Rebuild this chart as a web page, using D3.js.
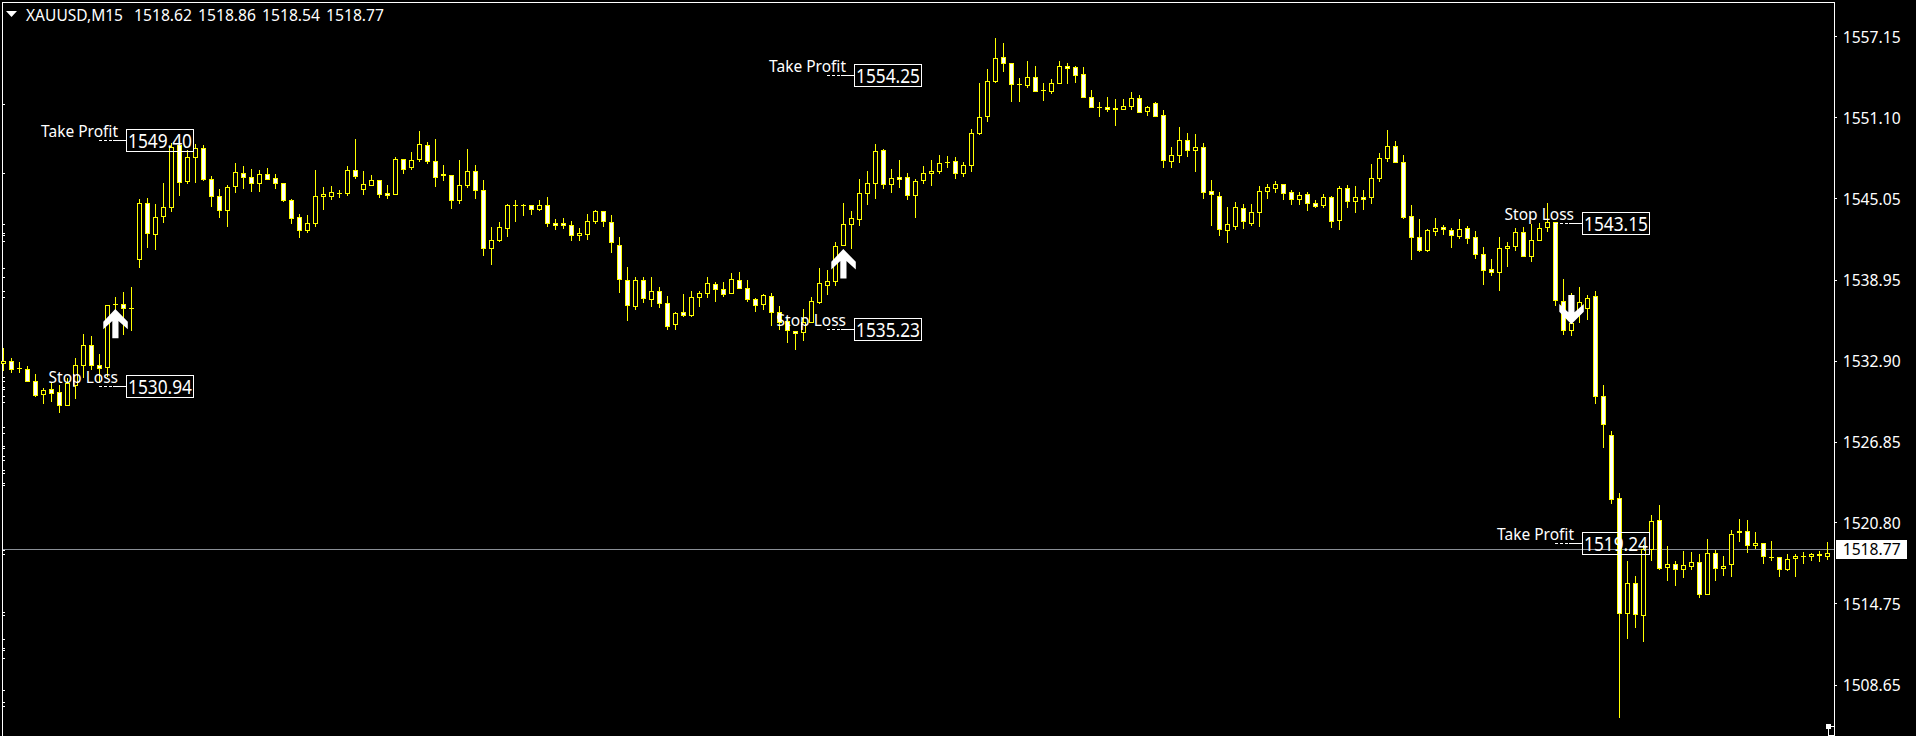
<!DOCTYPE html>
<html>
<head>
<meta charset="utf-8">
<style>
html,body{margin:0;padding:0;background:#000;overflow:hidden}
svg{display:block}
text{font-family:"Noto Sans",sans-serif;fill:#fff}
</style>
<script src="https://cdn.jsdelivr.net/npm/d3@7/dist/d3.min.js"></script>
</head>
<body>
<svg id="c" width="1916" height="736"></svg>
<script>
const symbolTitle = "XAUUSD,M15";
const headerValues = [1518.62, 1518.86, 1518.54, 1518.77];
const axisTicks = [1557.15, 1551.10, 1545.05, 1538.95, 1532.90, 1526.85, 1520.80, 1514.75, 1508.65];
const bidPrice = 1518.77;

const opens = [
1532.69,1532.85,1532.33,1532.26,1531.33,1530.39,1530.73,1530.54,1529.53,1531.08,
1532.56,1534.05,1532.56,1532.38,1537.14,1537.12,1536.79,1540.48,1544.67,1542.32,
1543.67,1544.37,1548.96,1546.29,1548.08,1548.79,1546.47,1545.20,1544.12,1545.91,
1546.92,1546.62,1546.14,1546.84,1546.54,1546.17,1544.90,1543.63,1542.62,1543.18,
1545.17,1545.17,1545.42,1545.39,1547.14,1545.69,1546.02,1546.39,1545.37,1545.32,
1547.96,1547.34,1547.93,1549.01,1547.81,1546.86,1546.77,1544.87,1545.97,1547.07,
1545.65,1541.28,1541.88,1542.77,1544.52,1544.52,1544.52,1544.19,1544.52,1543.20,
1543.20,1543.03,1542.28,1542.32,1543.35,1544.07,1543.25,1541.53,1538.91,1536.94,
1538.91,1537.46,1538.09,1537.19,1535.59,1536.52,1536.27,1537.64,1537.91,1538.61,
1538.24,1537.91,1538.91,1538.32,1537.49,1537.09,1537.72,1536.52,1535.82,1535.12,
1534.99,1535.79,1537.29,1538.51,1538.81,1541.55,1543.07,1543.48,1545.42,1546.17,
1548.64,1546.09,1546.64,1546.62,1545.27,1546.39,1546.92,1547.07,1547.71,1547.81,
1546.89,1547.49,1549.86,1551.13,1553.75,1555.59,1555.15,1553.57,1553.47,1554.10,
1553.13,1553.02,1553.67,1554.91,1554.85,1554.32,1552.60,1551.85,1551.82,1551.80,
1551.67,1551.90,1552.53,1551.52,1552.15,1551.26,1547.78,1548.23,1549.39,1548.61,
1548.86,1545.52,1545.20,1542.62,1542.92,1544.30,1543.20,1543.97,1545.54,1545.77,
1546.09,1545.50,1544.94,1545.35,1544.67,1544.49,1545.12,1543.37,1545.80,1544.79,
1545.14,1545.09,1546.51,1548.01,1548.94,1547.74,1543.70,1542.13,1541.13,1542.58,
1542.86,1542.65,1542.17,1542.80,1542.13,1540.86,1539.74,1539.48,1541.31,1541.43,
1542.50,1540.73,1541.88,1542.88,1543.25,1537.34,1535.14,1536.54,1536.79,1537.72,
1530.24,1527.32,1522.61,1514.01,1516.25,1513.86,1518.79,1520.96,1517.45,1517.67,
1517.30,1517.54,1517.82,1515.40,1518.49,1517.37,1517.67,1520.16,1520.14,1519.06,
1519.24,1518.19,1518.19,1517.27,1518.09,1518.27,1518.24,1518.44,1518.22];

const highs = [
1533.85,1533.10,1532.80,1532.50,1531.88,1530.83,1531.21,1531.08,1531.61,1533.08,
1534.87,1534.72,1533.38,1537.04,1537.64,1538.02,1538.39,1544.99,1545.05,1544.62,
1546.19,1549.16,1549.28,1548.66,1549.11,1549.01,1546.69,1545.74,1546.02,1547.69,
1547.46,1547.24,1547.16,1547.31,1546.86,1546.19,1544.99,1543.87,1543.80,1547.16,
1545.89,1545.97,1545.67,1547.46,1549.48,1547.09,1546.79,1546.42,1546.04,1548.14,
1547.99,1548.51,1550.08,1549.24,1549.48,1547.54,1546.79,1547.91,1548.73,1547.54,
1546.42,1542.88,1543.25,1544.60,1544.92,1544.60,1544.57,1544.92,1545.12,1543.48,
1543.55,1543.33,1542.80,1543.87,1544.15,1544.10,1543.80,1542.13,1539.91,1539.16,
1539.16,1539.16,1538.39,1537.74,1536.54,1537.89,1538.11,1538.11,1539.16,1538.76,
1538.76,1539.46,1539.51,1538.94,1537.59,1537.89,1537.96,1536.99,1536.09,1535.12,
1536.77,1537.66,1539.81,1539.68,1541.76,1544.67,1544.07,1546.47,1547.07,1549.11,
1548.73,1547.22,1547.89,1546.92,1546.47,1547.44,1547.89,1548.29,1548.19,1548.14,
1547.76,1550.23,1553.65,1554.70,1557.04,1556.66,1555.17,1554.02,1555.29,1554.94,
1553.65,1553.95,1555.29,1555.15,1554.92,1554.87,1553.15,1552.23,1552.60,1552.45,
1552.45,1552.98,1552.75,1551.93,1552.23,1551.63,1548.88,1550.38,1549.93,1549.83,
1549.18,1546.42,1545.52,1544.40,1544.77,1544.62,1544.62,1545.97,1546.12,1546.34,
1546.12,1545.67,1545.52,1545.52,1544.92,1545.37,1545.22,1545.97,1546.04,1545.97,
1545.67,1547.61,1548.41,1550.13,1549.33,1548.29,1544.57,1543.50,1542.73,1543.57,
1543.05,1542.83,1543.50,1542.95,1542.60,1541.40,1540.51,1542.15,1541.78,1542.83,
1542.90,1543.12,1543.20,1544.70,1543.30,1539.01,1537.94,1538.39,1537.81,1538.09,
1531.08,1527.64,1522.98,1517.92,1516.80,1519.11,1521.36,1522.11,1519.04,1517.92,
1518.67,1518.59,1518.44,1519.56,1518.74,1518.29,1520.24,1521.06,1520.98,1520.09,
1519.29,1519.41,1518.24,1518.44,1518.42,1518.59,1518.49,1518.67,1519.34];

const lows = [
1532.13,1532.00,1532.00,1531.33,1530.21,1529.68,1529.83,1529.01,1529.53,1530.06,
1531.61,1532.20,1531.21,1531.70,1535.94,1534.82,1535.14,1539.86,1541.33,1541.20,
1543.22,1544.02,1545.22,1546.14,1546.19,1546.34,1544.40,1543.57,1542.90,1545.44,
1545.74,1545.52,1545.52,1546.42,1545.74,1544.77,1543.12,1542.08,1542.45,1542.90,
1544.17,1544.92,1545.07,1545.22,1546.49,1545.29,1546.02,1545.07,1544.99,1545.29,
1546.86,1547.16,1547.76,1547.64,1545.89,1546.34,1544.25,1544.62,1545.82,1544.99,
1540.73,1540.06,1541.78,1542.15,1543.27,1543.72,1543.80,1544.10,1542.90,1542.68,
1542.75,1541.85,1541.85,1541.93,1543.12,1542.90,1540.96,1537.96,1535.87,1536.69,
1537.24,1536.92,1536.84,1535.20,1535.20,1536.17,1536.19,1536.92,1537.59,1537.29,
1537.66,1537.91,1538.29,1537.29,1536.54,1536.69,1535.50,1535.20,1534.22,1533.70,
1534.37,1535.79,1537.14,1537.81,1538.49,1541.46,1541.25,1542.98,1544.57,1544.99,
1545.74,1545.44,1545.82,1544.92,1543.57,1546.12,1545.97,1546.86,1547.31,1546.49,
1546.64,1547.01,1549.78,1550.75,1553.67,1554.49,1552.25,1552.25,1553.30,1553.02,
1552.33,1552.85,1553.60,1553.60,1553.67,1552.57,1551.82,1551.13,1551.50,1550.46,
1551.67,1551.65,1551.45,1551.20,1551.15,1547.31,1547.31,1547.69,1548.14,1547.01,
1544.99,1542.98,1542.23,1541.70,1542.68,1542.75,1542.98,1542.90,1544.99,1545.44,
1544.92,1544.57,1544.57,1544.10,1544.32,1544.32,1542.83,1542.68,1544.32,1543.95,
1544.17,1544.62,1546.27,1547.76,1547.69,1543.50,1540.43,1541.05,1541.05,1542.23,
1542.30,1541.33,1542.00,1541.63,1540.51,1538.56,1539.24,1538.11,1539.91,1541.11,
1540.66,1540.28,1541.88,1542.53,1536.99,1534.82,1534.75,1535.74,1535.94,1529.68,
1526.39,1522.20,1506.20,1512.11,1512.93,1511.88,1517.92,1517.27,1516.44,1516.05,
1516.65,1517.24,1515.15,1515.40,1516.44,1516.80,1516.72,1519.34,1518.52,1518.79,
1517.69,1517.89,1516.72,1517.19,1516.72,1517.69,1517.92,1517.84,1517.99];

const closes = [
1532.84,1532.26,1532.33,1531.33,1530.28,1530.66,1530.46,1529.53,1531.23,1532.53,
1534.05,1532.56,1532.33,1537.04,1537.14,1536.82,1536.79,1544.67,1542.43,1543.63,
1544.37,1548.88,1546.21,1548.11,1548.79,1546.42,1545.17,1544.12,1545.87,1546.99,
1546.59,1546.14,1546.84,1546.49,1546.14,1544.85,1543.57,1542.62,1543.18,1545.20,
1545.35,1545.50,1545.42,1547.14,1546.66,1546.09,1546.39,1545.32,1545.29,1547.96,
1547.19,1547.89,1549.09,1547.78,1546.59,1546.75,1544.87,1546.02,1547.07,1545.65,
1541.28,1541.91,1542.88,1544.52,1544.52,1544.52,1544.19,1544.52,1543.15,1543.05,
1543.05,1542.25,1542.40,1543.33,1544.07,1543.30,1541.73,1538.96,1537.01,1538.91,
1537.54,1538.09,1537.16,1535.44,1536.44,1536.27,1537.64,1537.94,1538.69,1538.21,
1537.84,1538.99,1538.29,1537.46,1537.01,1537.79,1536.49,1535.74,1535.14,1534.92,
1535.74,1537.34,1538.69,1538.84,1541.46,1543.10,1543.55,1545.42,1546.17,1548.56,
1546.09,1546.54,1546.49,1545.27,1546.32,1546.92,1547.07,1547.67,1547.71,1546.89,
1547.52,1549.91,1551.11,1553.80,1555.52,1555.12,1553.54,1553.57,1554.10,1553.02,
1553.13,1553.65,1554.92,1554.79,1554.22,1552.57,1551.82,1551.85,1551.67,1551.69,
1551.90,1552.53,1551.45,1551.85,1551.15,1547.86,1548.26,1549.39,1548.61,1548.86,
1545.47,1545.33,1542.70,1543.10,1544.37,1543.30,1544.00,1545.57,1545.87,1546.09,
1545.39,1544.94,1545.27,1544.64,1544.42,1545.12,1543.30,1545.80,1544.79,1545.12,
1544.96,1546.54,1548.04,1548.94,1547.71,1543.60,1542.10,1541.18,1542.65,1542.80,
1542.75,1542.25,1542.73,1542.03,1540.83,1539.68,1539.48,1541.31,1541.46,1542.50,
1540.73,1541.91,1542.80,1543.25,1537.44,1535.14,1535.70,1537.22,1537.57,1530.24,
1528.11,1522.50,1514.01,1516.25,1513.90,1518.79,1520.89,1517.37,1517.67,1517.30,
1517.60,1517.82,1515.40,1518.49,1517.37,1517.52,1519.91,1520.03,1519.06,1519.24,
1518.24,1518.19,1517.27,1518.04,1518.27,1518.27,1518.42,1518.33,1518.49];

// trade arrows: bar, tip price, direction
const arrowBars = [14, 105, 196];
const arrowPrices = [1536.77, 1541.25, 1535.62];
const arrowDirs = ["up", "up", "down"];

// order levels
const levelBars = [14, 14, 105, 105, 196, 196];
const levelNames = ["Take Profit", "Stop Loss", "Take Profit", "Stop Loss", "Stop Loss", "Take Profit"];
const levelPrices = [1549.40, 1530.94, 1554.25, 1535.23, 1543.15, 1519.24];

// deal marks on the left edge
const edgeMarks = [1552.10,1546.94,1543.12,1542.45,1542.30,1541.85,1539.76,1539.09,1538.11,1537.66,
1531.61,1531.38,1530.93,1530.71,1530.26,1529.81,1527.87,1527.49,1526.52,1526.37,1525.70,1525.40,
1524.72,1524.50,1523.68,1523.53,1518.74,1518.44,1514.03,1513.88,1512.08,1511.41,1511.19,1510.66,
1508.27,1507.37,1507.07];

const W = 1916, H = 736;
const YELLOW = "#ffff00";
const svg = d3.select("#c").attr("viewBox", `0 0 ${W} ${H}`);
const y = d3.scaleLinear().domain([1559.88, 1504.83]).range([0, H]);
const x = d3.scaleLinear().domain([0, opens.length - 1]).range([3.5, 3.5 + 8 * (opens.length - 1)]);
const bars = d3.range(opens.length);
const crisp = g => g.attr("shape-rendering", "crispEdges");

// frame
const frame = svg.append("g").call(crisp);
frame.append("rect").attr("x", 2).attr("y", 2).attr("width", 1).attr("height", H - 2).attr("fill", "#fff");
frame.append("rect").attr("x", 2).attr("y", 2).attr("width", 1833).attr("height", 1).attr("fill", "#fff");
frame.selectAll("rect.m").data(edgeMarks).join("rect").attr("class", "m")
  .attr("x", 3).attr("width", 2).attr("height", 1).attr("y", d => Math.floor(y(d))).attr("fill", "#fff");

// bid line
svg.append("g").call(crisp).append("rect")
  .attr("x", 3).attr("width", 1831).attr("height", 1)
  .attr("y", Math.floor(y(bidPrice))).attr("fill", "#8a8f96");

// candles
const wickG = svg.append("g").call(crisp);
wickG.selectAll("rect").data(bars).join("rect")
  .attr("x", i => Math.floor(x(i))).attr("width", 1)
  .attr("y", i => Math.round(y(highs[i])))
  .attr("height", i => Math.max(1, Math.round(y(lows[i])) - Math.round(y(highs[i]))))
  .attr("fill", YELLOW);
const top_ = i => Math.floor(y(Math.max(opens[i], closes[i])));
const bot_ = i => Math.floor(y(Math.min(opens[i], closes[i])));
const bodyG = svg.append("g").call(crisp);
bodyG.selectAll("rect").data(bars).join("rect")
  .attr("x", i => Math.floor(x(i)) - 2).attr("width", 5)
  .attr("y", top_).attr("height", i => bot_(i) - top_(i) + 1)
  .attr("fill", YELLOW);
const innerG = svg.append("g").call(crisp);
innerG.selectAll("rect").data(bars.filter(i => bot_(i) - top_(i) >= 2)).join("rect")
  .attr("x", i => Math.floor(x(i)) - 1).attr("width", 3)
  .attr("y", i => top_(i) + 1).attr("height", i => bot_(i) - top_(i) - 1)
  .attr("fill", i => closes[i] < opens[i] ? "#fff" : "#000");

// arrows
const arrowShape = [[0,0],[12.5,12.7],[12.5,20.3],[3.2,12],[3.2,29.3],[-3,29.3],[-3,12],[-12,20.3],[-12,12.7]];
const line = d3.line();
svg.append("g").selectAll("path").data(arrowBars).join("path")
  .attr("d", line(arrowShape))
  .attr("transform", (b, i) => `translate(${x(b) - 0.2},${y(arrowPrices[i])}) scale(1,${arrowDirs[i] === "up" ? 1 : -1})`)
  .attr("fill", "#fff");

// axis
const axis = d3.axisRight(y).tickValues(axisTicks).tickSize(3).tickSizeOuter(0).tickPadding(5)
  .tickFormat(d3.format(".2f"));
const axG = svg.append("g").attr("transform", "translate(1834,0)").call(axis);
axG.select(".domain").attr("stroke", "#fff").attr("d", `M0.5,2V${H}`).attr("shape-rendering", "crispEdges");
axG.selectAll(".tick line").attr("stroke", "#fff").attr("shape-rendering", "crispEdges");
axG.selectAll(".tick text").attr("font-family", '"Noto Sans",sans-serif').attr("font-size", 16).attr("fill", "#fff")
  .attr("x", 8.7).attr("dy", "0.37em").attr("textLength", 58).attr("lengthAdjust", "spacingAndGlyphs");

// bid tag
const tagY = Math.floor(y(bidPrice));
svg.append("rect").attr("x", 1836).attr("y", tagY - 9).attr("width", 71).attr("height", 19).attr("fill", "#fff").attr("shape-rendering", "crispEdges");
svg.append("text").attr("x", 1842.7).attr("y", tagY + 6).attr("font-size", 16).attr("textLength", 58).attr("lengthAdjust", "spacingAndGlyphs").style("fill", "#000").text(d3.format(".2f")(bidPrice));

// order levels
const lv = svg.append("g").selectAll("g").data(levelBars).join("g")
  .attr("transform", (b, i) => `translate(${Math.floor(x(b)) + 11},${Math.floor(y(levelPrices[i]))})`);
lv.append("rect").attr("x", 0.5).attr("y", -10.5).attr("width", 67).attr("height", 22)
  .attr("fill", "none").attr("stroke", "#fff").attr("shape-rendering", "crispEdges");
lv.append("line").attr("x1", -27).attr("x2", -13).attr("y1", 0.5).attr("y2", 0.5)
  .attr("stroke", "#fff").attr("stroke-dasharray", "3,2").attr("shape-rendering", "crispEdges");
lv.append("line").attr("x1", -13).attr("x2", 0).attr("y1", 0.5).attr("y2", 0.5)
  .attr("stroke", "#fff").attr("shape-rendering", "crispEdges");
lv.append("text").attr("x", -8).attr("y", -3).attr("text-anchor", "end").attr("font-size", 15.5)
  .text((b, i) => levelNames[i]);
lv.append("text").attr("x", 2).attr("y", 8).attr("font-size", 19)
  .attr("textLength", 64).attr("lengthAdjust", "spacingAndGlyphs")
  .text((b, i) => d3.format(".2f")(levelPrices[i]));

// header
svg.append("path").attr("d", "M6,11H17L11.5,17Z").attr("fill", "#fff");
svg.append("text").attr("x", 26).attr("y", 21).attr("font-size", 16).attr("textLength", 97).attr("lengthAdjust", "spacingAndGlyphs").text(symbolTitle);
svg.append("g").selectAll("text").data(headerValues).join("text")
  .attr("x", (d, i) => 134 + i * 64).attr("y", 21).attr("font-size", 16)
  .attr("textLength", 58).attr("lengthAdjust", "spacingAndGlyphs")
  .text(d => d3.format(".2f")(d));

// chart shift marker
const mk = svg.append("g").call(crisp).attr("fill", "#fff");
mk.append("rect").attr("x", 1826).attr("y", 724).attr("width", 5).attr("height", 5);
mk.append("rect").attr("x", 1831).attr("y", 726).attr("width", 3).attr("height", 1);
mk.append("rect").attr("x", 1828).attr("y", 729).attr("width", 1).attr("height", 7);
mk.append("rect").attr("x", 1828).attr("y", 735).attr("width", 6).attr("height", 1);
</script>
</body>
</html>
